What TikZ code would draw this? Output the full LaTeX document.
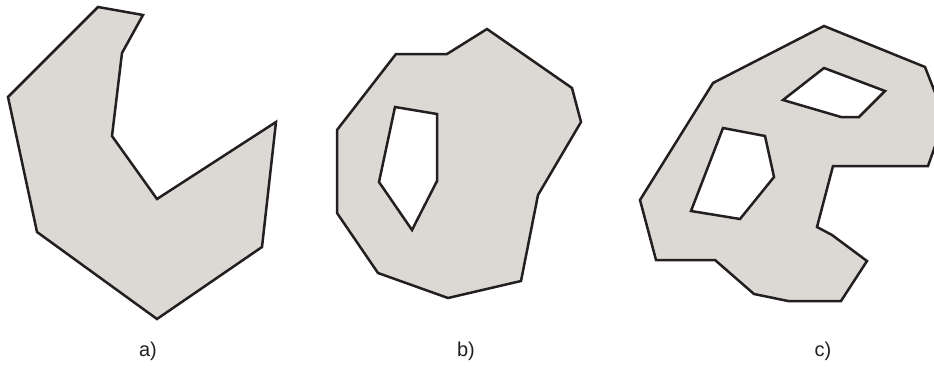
\documentclass[tikz,border=0pt]{standalone}
\usepackage{fontspec}
\setmainfont{Liberation Sans}
\definecolor{polyfill}{RGB}{220,216,211}
\definecolor{polyline}{RGB}{35,31,32}
\tikzset{
  poly/.style={fill=polyfill, draw=polyline, line width=2.5pt, line join=miter, even odd rule},
  lbl/.style={font=\fontsize{20}{24}\selectfont, text=polyline, inner sep=0pt}
}
\begin{document}
\begin{tikzpicture}[x=1pt,y=-1pt]
\useasboundingbox (0,0) rectangle (934,383);
\clip (0,0) rectangle (934,383);
% a)
\path[poly] (98,7) -- (143,15) -- (122,53) -- (112,136) -- (157,199) -- (276,122)
  -- (262,247) -- (157,319) -- (37,232) -- (8,97) -- cycle;
% b)
\path[poly] (396,54) -- (447,54) -- (487,29) -- (572,88) -- (581,122) -- (538,195)
  -- (521,281) -- (448,298) -- (378,273) -- (337,213) -- (337,130) -- cycle
  (395,107) -- (437,114) -- (437,181) -- (412,230) -- (379,182) -- cycle;
% c)
\path[poly] (824,26) -- (925,67) -- (945,118) -- (928,166) -- (833,166) -- (817,227)
  -- (832,235) -- (867,261) -- (841,301) -- (788,301) -- (754,294) -- (715,260)
  -- (656,260) -- (640,200) -- (713,83) -- cycle
  (824,68) -- (885,91) -- (859,117) -- (841,117) -- (783,100) -- cycle
  (723,128) -- (765,136) -- (774,177) -- (740,219) -- (691,211) -- cycle;
\node[lbl] (la) at (148,351) {a)};
\node[lbl] (lb) at (466,351) {b)};
\node[lbl] (lc) at (823,351) {c)};
\end{tikzpicture}
\end{document}
